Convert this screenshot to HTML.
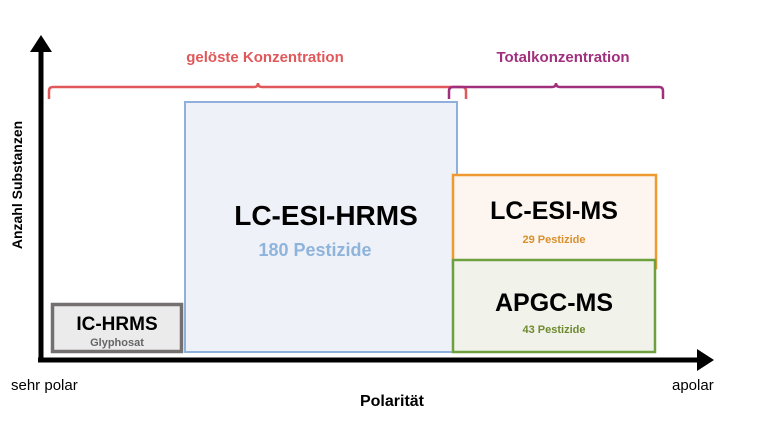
<!DOCTYPE html>
<html><head><meta charset="utf-8"><style>
html,body{margin:0;padding:0;background:#fff;}
svg{display:block;font-family:"Liberation Sans",sans-serif;}
</style></head><body>
<svg width="760" height="440" viewBox="0 0 760 440" xmlns="http://www.w3.org/2000/svg">
<rect width="760" height="440" fill="#fff"/>
<!-- boxes -->
<rect x="185" y="102" width="272" height="250" fill="#eef1f8" stroke="#8fb0dc" stroke-width="2"/>
<rect x="453" y="175" width="203" height="93" fill="#fdf6f0" stroke="#ee9a30" stroke-width="2.5"/>
<rect x="453" y="260" width="202" height="92" fill="#f1f2ea" stroke="#6ea040" stroke-width="2.5"/>
<rect x="52.5" y="304.5" width="129" height="47" fill="#ebebeb" stroke="#747070" stroke-width="3.5"/>
<!-- axes -->
<line x1="41" y1="362" x2="41" y2="48" stroke="#000" stroke-width="5"/>
<polygon points="30,52 52,52 41,35" fill="#000"/>
<line x1="38" y1="360" x2="700" y2="360" stroke="#000" stroke-width="5"/>
<polygon points="697,349 697,371 714,360" fill="#000"/>
<!-- brackets -->
<path d="M49,99 L49,91 Q49,87 53,87 L254,87 Q258,87 258,83 Q258,87 262,87 L462,87 Q466,87 466,91 L466,99" fill="none" stroke="#e0585a" stroke-width="2.5"/>
<path d="M449,99 L449,91 Q449,87 453,87 L552,87 Q556,87 556,83 Q556,87 560,87 L659,87 Q663,87 663,91 L663,99" fill="none" stroke="#a0307e" stroke-width="2.5"/>
<text x="265" y="62" text-anchor="middle" font-size="15" font-weight="bold" fill="#e0585a">gelöste Konzentration</text>
<text x="563" y="62" text-anchor="middle" font-size="15" font-weight="bold" fill="#a0307e">Totalkonzentration</text>
<!-- labels -->
<text x="326" y="225" text-anchor="middle" font-size="28" font-weight="bold" fill="#000">LC-ESI-HRMS</text>
<text x="315" y="256" text-anchor="middle" font-size="18" font-weight="bold" fill="#8fb4dc">180 Pestizide</text>
<text x="554" y="219" text-anchor="middle" font-size="25" font-weight="bold" fill="#000">LC-ESI-MS</text>
<text x="554" y="243" text-anchor="middle" font-size="11" font-weight="bold" fill="#d9902c">29 Pestizide</text>
<text x="554" y="311" text-anchor="middle" font-size="25" font-weight="bold" fill="#000">APGC-MS</text>
<text x="554" y="333" text-anchor="middle" font-size="11" font-weight="bold" fill="#6e8a30">43 Pestizide</text>
<text x="117" y="330" text-anchor="middle" font-size="19" font-weight="bold" fill="#000">IC-HRMS</text>
<text x="117" y="346" text-anchor="middle" font-size="11" font-weight="bold" fill="#666">Glyphosat</text>
<text x="11" y="390" font-size="15" fill="#000">sehr polar</text>
<text x="672" y="390" font-size="15" fill="#000">apolar</text>
<text x="392" y="406" text-anchor="middle" font-size="16" font-weight="bold" fill="#000">Polarität</text>
<text transform="translate(22,185) rotate(-90)" text-anchor="middle" font-size="14" font-weight="bold" fill="#000">Anzahl Substanzen</text>
</svg>
</body></html>
